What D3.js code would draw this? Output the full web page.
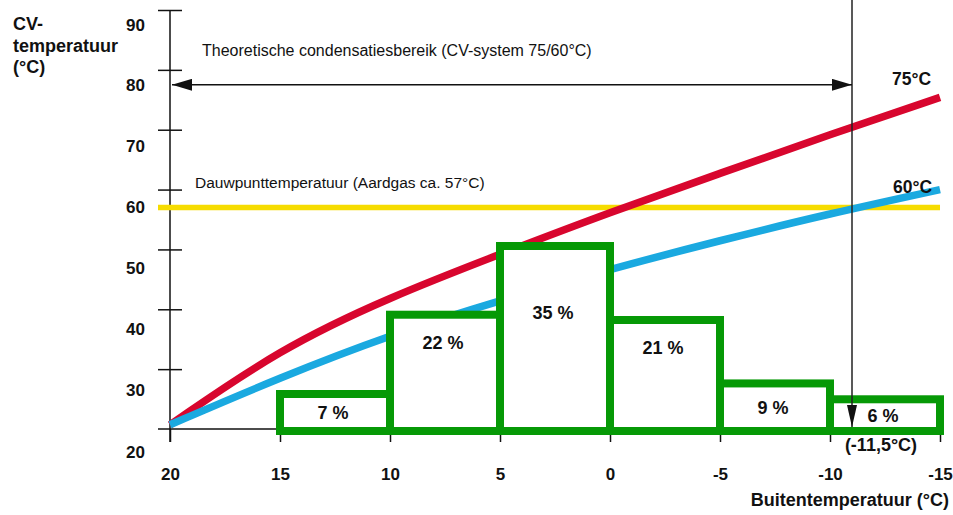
<!DOCTYPE html>
<html>
<head>
<meta charset="utf-8">
<script src="https://cdn.jsdelivr.net/npm/d3@7"></script>
<style>
  html, body { margin: 0; padding: 0; background: #fff; }
  svg { display: block; font-family: "Liberation Sans", Arial, sans-serif; }
</style>
</head>
<body>
<svg id="chart" width="953" height="515"></svg>
<script>
// ---------- data ----------
const outdoorTemps = [20, 15, 10, 5, 0, -5, -10, -15];
const supply75 = [20.7, 33.4, 42.05, 49.2, 56.2, 62.7, 69.2, 75.4];
const supply60 = [20.7, 28.6, 35.7, 41.5, 46.7, 51.5, 56.0, 60.0];
const dewPoint = 57;
const binStarts = [15, 10, 5, 0, -5, -10];
const binEnds = [10, 5, 0, -5, -10, -15];
const shares = [7, 22, 35, 21, 9, 6];
const xTicks = [20, 15, 10, 5, 0, -5, -10, -15];
const yTicks = [20, 30, 40, 50, 60, 70, 80, 90];
const designLineTemp = -11;          // where the design-temperature line is drawn
const designLabel = "(-11,5°C)";
const rangeArrowLevel = 77.5;         // level of the condensation-range arrow
const yTitleLines = ["CV-", "temperatuur", "(°C)"];
const xTitle = "Buitentemperatuur (°C)";
const rangeText = "Theoretische condensatiesbereik (CV-system 75/60°C)";
const dewText = "Dauwpunttemperatuur (Aardgas ca. 57°C)";
const curveLabels = ["75°C", "60°C"];

// ---------- setup ----------
const svg = d3.select("#chart");
const W = 953, H = 515;
svg.append("rect").attr("width", W).attr("height", H).attr("fill", "#fff");

const x = d3.scaleLinear().domain([20, -15]).range([170, 940]);
const y = d3.scaleLinear().domain([20, 90]).range([429, 10]);
const yLabel = d3.scaleLinear().domain([20, 90]).range([457, 30]);   // tick-label baselines
const yPct = d3.scaleLinear().domain([0, 35]).range([431, 246]);

const RED = "#d8062e", BLUE = "#1aa9e0", YELLOW = "#f6dc00", GREEN = "#069906";
const overhang = 12;

// ---------- markers ----------
const defs = svg.append("defs");
defs.append("marker").attr("id", "ah").attr("markerUnits", "userSpaceOnUse")
  .attr("markerWidth", 20).attr("markerHeight", 12).attr("refX", 20).attr("refY", 6)
  .attr("orient", "auto-start-reverse")
  .append("path").attr("d", "M0,0 L20,6 L0,12 Z").attr("fill", "#111");
defs.append("marker").attr("id", "av").attr("markerUnits", "userSpaceOnUse")
  .attr("markerWidth", 22).attr("markerHeight", 10).attr("refX", 22).attr("refY", 5)
  .attr("orient", "auto")
  .append("path").attr("d", "M0,0 L22,5 L0,10 Z").attr("fill", "#111");

// ---------- axes ----------
svg.append("line").attr("x1", x(20)).attr("x2", x(20))
  .attr("y1", y(90)).attr("y2", y(20) + 13)
  .attr("stroke", "#111").attr("stroke-width", 1.5);
svg.append("line").attr("x1", x(20) - overhang).attr("x2", x(-15))
  .attr("y1", y(20)).attr("y2", y(20))
  .attr("stroke", "#111").attr("stroke-width", 1.5);

const yAxis = d3.axisLeft(y).tickValues(yTicks).tickSize(12).tickFormat(d => String(d));
const gy = svg.append("g").attr("transform", `translate(${x(20)},0)`).call(yAxis);
gy.select(".domain").remove();
gy.selectAll(".tick line").attr("x1", 12).attr("stroke", "#111").attr("stroke-width", 1.5);
gy.selectAll(".tick").filter(d => d === 20).select("line").remove();
gy.selectAll(".tick text")
  .attr("x", -25).attr("dy", null)
  .attr("y", d => yLabel(d) - y(d))
  .attr("font-family", "Liberation Sans, Arial, sans-serif")
  .attr("font-size", 17).attr("font-weight", "bold").attr("fill", "#111");

const xAxis = d3.axisBottom(x).tickValues(xTicks).tickSize(13).tickFormat(d => String(d));
const gx = svg.append("g").attr("transform", `translate(0,${y(20)})`).call(xAxis);
gx.select(".domain").remove();
gx.selectAll(".tick line").attr("stroke", "#111").attr("stroke-width", 1.5);
gx.selectAll(".tick text")
  .attr("y", 51).attr("dy", null)
  .attr("font-family", "Liberation Sans, Arial, sans-serif")
  .attr("font-size", 17).attr("font-weight", "bold").attr("fill", "#111");

const yt = svg.append("text").attr("x", 13).attr("y", 30)
  .attr("font-size", 18).attr("font-weight", "bold").attr("fill", "#111");
yTitleLines.forEach((t, i) => yt.append("tspan").attr("x", 13).attr("dy", i === 0 ? 0 : 21.5).text(t));
svg.append("text").attr("x", 949).attr("y", 506).attr("text-anchor", "end")
  .attr("font-size", 18).attr("font-weight", "bold").attr("fill", "#111").text(xTitle);

// ---------- dew point line ----------
svg.append("line").attr("x1", x(20) - overhang).attr("x2", x(-15))
  .attr("y1", y(dewPoint)).attr("y2", y(dewPoint))
  .attr("stroke", YELLOW).attr("stroke-width", 5.5);
svg.append("text").attr("x", 195).attr("y", 188)
  .attr("font-size", 15.5).attr("fill", "#111").text(dewText);

// ---------- curves ----------
const line = d3.line().x(d => x(d[0])).y(d => y(d[1])).curve(d3.curveBasis);
svg.append("path").datum(outdoorTemps.map((t, i) => [t, supply75[i]]))
  .attr("d", line).attr("fill", "none").attr("stroke", RED).attr("stroke-width", 7.5);
svg.append("path").datum(outdoorTemps.map((t, i) => [t, supply60[i]]))
  .attr("d", line).attr("fill", "none").attr("stroke", BLUE).attr("stroke-width", 7.5);

svg.append("text").attr("x", 892).attr("y", 85)
  .attr("font-size", 17.5).attr("font-weight", "bold").attr("fill", "#111").text(curveLabels[0]);
svg.append("text").attr("x", 893).attr("y", 193)
  .attr("font-size", 17.5).attr("font-weight", "bold").attr("fill", "#111").text(curveLabels[1]);

// ---------- histogram bars ----------
const bars = svg.append("g");
shares.forEach((p, i) => {
  const x0 = x(binStarts[i]), x1 = x(binEnds[i]);
  const top = yPct(p), bottom = yPct(0), h = bottom - top;
  bars.append("rect").attr("x", x0).attr("y", top)
    .attr("width", x1 - x0).attr("height", h)
    .attr("fill", "#fff").attr("stroke", GREEN).attr("stroke-width", 8);
});
shares.forEach((p, i) => {
  const x0 = x(binStarts[i]), x1 = x(binEnds[i]);
  const top = yPct(p), bottom = yPct(0), h = bottom - top;
  const off = h > 150 ? h * 0.36 : Math.min(h / 2, 28);
  bars.append("text").attr("x", (x0 + x1) / 2 - 2).attr("y", top + off)
    .attr("dy", "0.36em").attr("text-anchor", "middle")
    .attr("font-size", 18).attr("font-weight", "bold").attr("fill", "#111")
    .text(p + " %");
});

// ---------- design temperature line & range arrow ----------
svg.append("line").attr("x1", x(designLineTemp)).attr("x2", x(designLineTemp))
  .attr("y1", 0).attr("y2", y(20) - 2)
  .attr("stroke", "#222").attr("stroke-width", 1.5)
  .attr("marker-end", "url(#av)");
svg.append("text").attr("x", x(designLineTemp) + 29).attr("y", 451)
  .attr("text-anchor", "middle")
  .attr("font-size", 18).attr("font-weight", "bold").attr("fill", "#111").text(designLabel);

svg.append("line").attr("x1", x(20) + 2).attr("x2", x(designLineTemp))
  .attr("y1", y(rangeArrowLevel)).attr("y2", y(rangeArrowLevel))
  .attr("stroke", "#111").attr("stroke-width", 1.5)
  .attr("marker-start", "url(#ah)").attr("marker-end", "url(#ah)");
svg.append("text").attr("x", 202).attr("y", 56)
  .attr("font-size", 16).attr("fill", "#111").text(rangeText);
</script>
</body>
</html>
